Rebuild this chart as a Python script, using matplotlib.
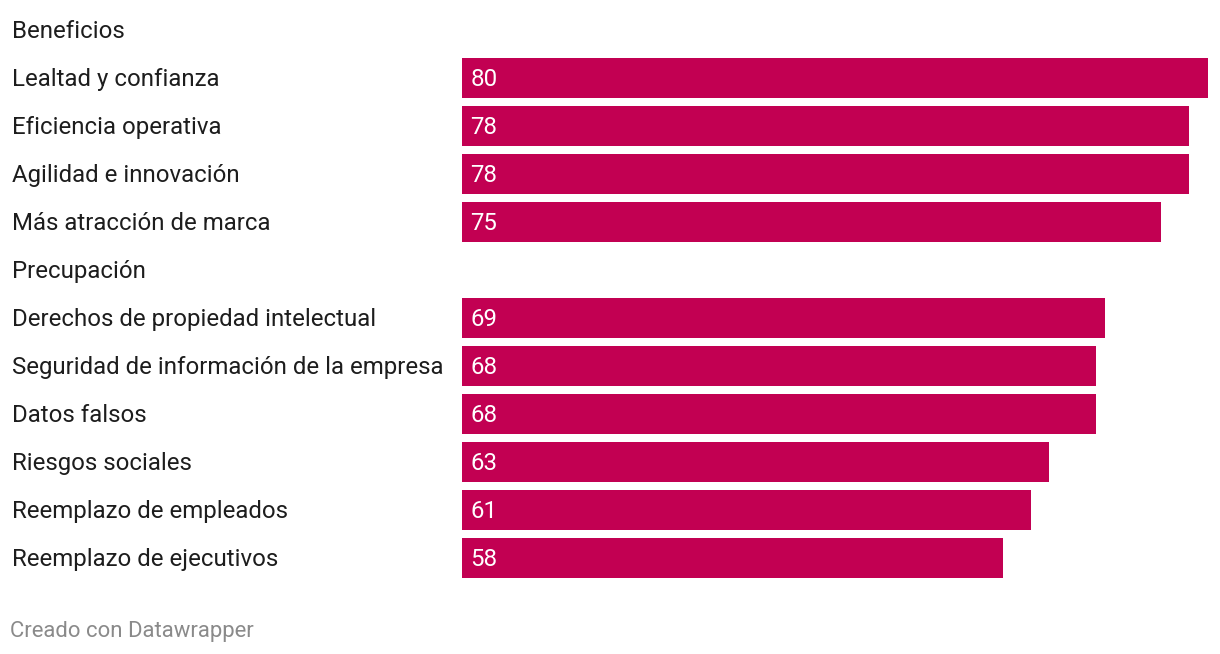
import matplotlib.pyplot as plt

plt.rcParams['font.family'] = ['Roboto', 'DejaVu Sans']

labels = ['Beneficios', 'Lealtad y confianza', 'Eficiencia operativa', 'Agilidad e innovación',
          'Más atracción de marca', 'Precupación', 'Derechos de propiedad intelectual',
          'Seguridad de información de la empresa', 'Datos falsos', 'Riesgos sociales',
          'Reemplazo de empleados', 'Reemplazo de ejecutivos']
values = [None, 80, 78, 78, 75, None, 69, 68, 68, 63, 61, 58]

W, H = 1220, 654
fig = plt.figure(figsize=(W / 100, H / 100), dpi=100)
# bar area: x 462..1208 px, rows from y=6 to y=582 px
ax = fig.add_axes([462 / W, 1 - 582 / H, (1208 - 462) / W, (582 - 6) / H])
ax.set_xlim(0, 80)
ax.set_ylim(len(labels) - 0.5, -0.5)
ax.axis('off')

bar_color = '#c20052'
label_x = -(462 - 12) / (1208 - 462) * 80
for i, (lab, v) in enumerate(zip(labels, values)):
    ax.text(label_x, i + 0.04, lab, ha='left', va='center',
            fontsize=17.3, color='#1d1d1d')
    if v is not None:
        ax.barh(i, v, height=40 / 48, color=bar_color, left=0)
        ax.text(0.9, i + 0.04, str(v), ha='left', va='center', fontsize=17.3, color='white')

fig.text(10 / W, 1 - 631 / H, 'Creado con Datawrapper', ha='left', va='center',
         fontsize=15.9, color='#8a8a8a')

fig.savefig('out.png', dpi=100)
